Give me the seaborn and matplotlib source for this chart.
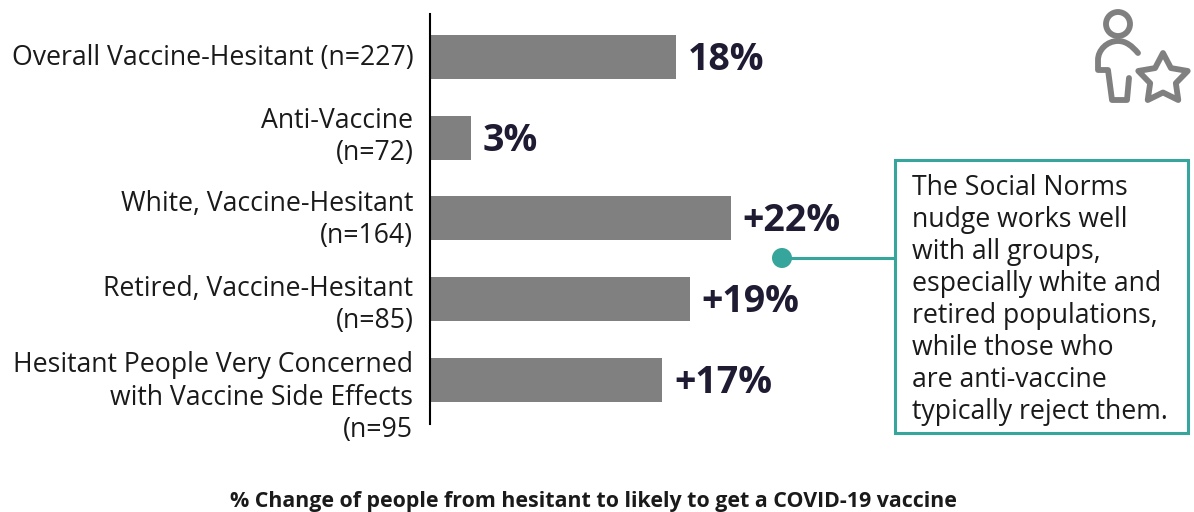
import matplotlib
matplotlib.use("Agg")
import matplotlib.pyplot as plt
import numpy as np
import pandas as pd
import seaborn as sns
from matplotlib.patches import Circle, PathPatch, Rectangle
from matplotlib.path import Path
from matplotlib.transforms import ScaledTranslation

categories = [
    "Overall Vaccine-Hesitant (n=227)",
    "Anti-Vaccine\n(n=72)",
    "White, Vaccine-Hesitant\n(n=164)",
    "Retired, Vaccine-Hesitant\n(n=85)",
    "Hesitant People Very Concerned\nwith Vaccine Side Effects\n(n=95",
]
values = [18, 3, 22, 19, 17]
value_labels = ["18%", "3%", "+22%", "+19%", "+17%"]
x_title = "% Change of people from hesitant to likely to get a COVID-19 vaccine"
note_lines = [
    "The Social Norms",
    "nudge works well",
    "with all groups,",
    "especially white and",
    "retired populations,",
    "while those who",
    "are anti-vaccine",
    "typically reject them.",
]

W, H = 1194, 512
GREY = "#808080"
TEAL = "#36A59B"
INK = "#1F1B33"
TEXT = "#1A1A1A"

sns.set_theme(style="white")
plt.rcParams["font.family"] = ["Open Sans", "DejaVu Sans"]

fig = plt.figure(figsize=(W / 100, H / 100), dpi=100, facecolor="white")

# Bar panel: spans x 430..840 and y 14..424 in figure pixels
ax = fig.add_axes([430 / W, 1 - 424 / H, 410 / W, 410 / H])
frame = pd.DataFrame({"group": categories, "change": values})
sns.barplot(data=frame, x="change", y="group", orient="h", color=GREY,
            saturation=1, width=0.545, linewidth=0, ax=ax)
ax.set_xlim(0, 410 / 13.67)
ax.set_ylim(4.545, -0.5325)
ax.set_xlabel("")
ax.set_ylabel("")
ax.set_xticks([])
ax.tick_params(axis="y", length=0, pad=12)

# The wrapped labels sit slightly off their bars, so each gets a small vertical shift (px)
label_shift_px = [2, 6, 4, 0, -12]
for lab, dy in zip(ax.get_yticklabels(), label_shift_px):
    lab.set_fontsize(19.2)
    lab.set_color(TEXT)
    lab.set_ha("right")
    lab.set_multialignment("right")
    lab.set_linespacing(1.2)
    lab.set_transform(lab.get_transform() + ScaledTranslation(0, dy / 100, fig.dpi_scale_trans))
sns.despine(ax=ax, left=False, bottom=True)
ax.spines["left"].set_color("black")
ax.spines["left"].set_linewidth(1.5)
ax.patch.set_alpha(0)

for i, (v, txt) in enumerate(zip(values, value_labels)):
    ax.annotate(txt, (v, i), xytext=(8.5, -2), textcoords="offset points",
                va="center", ha="left", fontsize=27, fontweight="bold", color=INK)

# Overlay in pixel coordinates for the callout, the icon and the caption
ov = fig.add_axes([0, 0, 1, 1], facecolor="none")
ov.set_xlim(0, W)
ov.set_ylim(H, 0)
ov.axis("off")

ov.text(593, 502, x_title, ha="center", va="center", fontsize=15.4,
        fontweight="bold", color=TEXT)

# Callout box with its leader line
ov.add_patch(Rectangle((895, 160), 293, 273, fill=False, ec=TEAL, lw=2.2))
ov.plot([782, 895], [258, 258], color=TEAL, lw=2.2, solid_capstyle="butt")
ov.add_patch(Circle((782, 258), 10, fc=TEAL, ec="none"))
for i, line in enumerate(note_lines):
    ov.text(912, 188 + i * 32, line, ha="left", va="center",
            fontsize=19.2, color=TEXT)

# Person-with-star icon
icon = dict(fc="none", ec=GREY, lw=4.2, capstyle="round", joinstyle="round")
ov.add_patch(Circle((1118, 24), 12, **icon))
body = Path(
    [(1138, 53), (1132, 46), (1126, 41), (1118, 41), (1107, 41), (1098, 50), (1098, 60),
     (1098, 70), (1108, 70), (1112, 100), (1127, 100), (1129, 78)],
    [Path.MOVETO, Path.CURVE4, Path.CURVE4, Path.CURVE4, Path.CURVE4, Path.CURVE4, Path.CURVE4,
     Path.LINETO, Path.LINETO, Path.LINETO, Path.LINETO, Path.LINETO],
)
ov.add_patch(PathPatch(body, **icon))
angles = np.deg2rad(-90 + 36 * np.arange(10))
radii = np.where(np.arange(10) % 2 == 0, 26, 13.5)
star = np.column_stack([1163 + radii * np.cos(angles), 79 + radii * np.sin(angles)])
ov.add_patch(PathPatch(Path(np.vstack([star, star[0]]), closed=True), **icon))

fig.savefig("out.png", dpi=100, facecolor="white")
